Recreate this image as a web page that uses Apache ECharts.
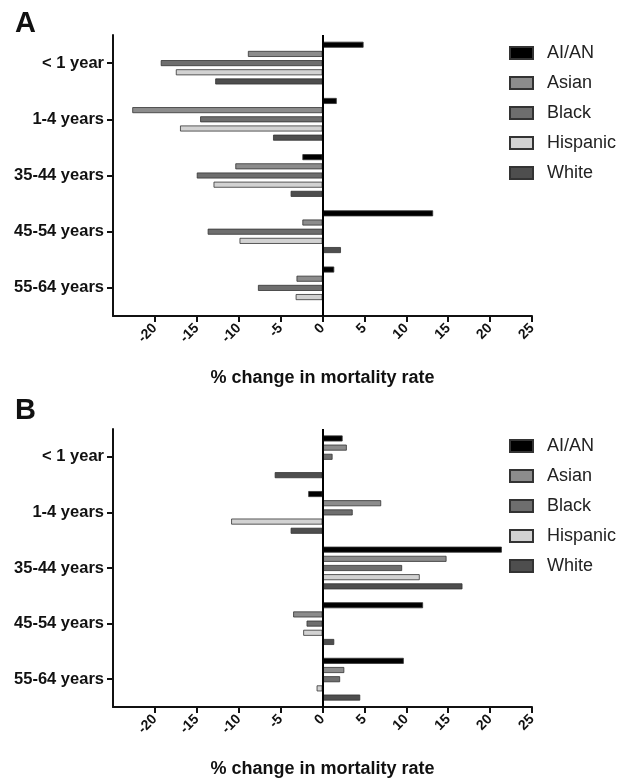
<!DOCTYPE html>
<html>
<head>
<meta charset="utf-8">
<script src="https://cdn.jsdelivr.net/npm/echarts@6/dist/echarts.min.js"></script>
<style>
  html, body { margin: 0; padding: 0; background: #fff; }
  #chart { width: 629px; height: 779px; }
</style>
</head>
<body>
<div id="chart"></div>
<script>
var categories = ['< 1 year', '1-4 years', '35-44 years', '45-54 years', '55-64 years'];
var groups = ['AI/AN', 'Asian', 'Black', 'Hispanic', 'White'];
var xTicks = [-20, -15, -10, -5, 0, 5, 10, 15, 20, 25];

// panel A
var aianA = [4.9, 1.7, -2.4, 13.2, 1.4];
var asianA = [-8.9, -22.7, -10.4, -2.4, -3.1];
var blackA = [-19.3, -14.6, -15.0, -13.7, -7.7];
var hispanicA = [-17.5, -17.0, -13.0, -9.9, -3.2];
var whiteA = [-12.8, -5.9, -3.8, 2.2, 0];

// panel B
var aianB = [2.4, -1.7, 21.4, 12.0, 9.7];
var asianB = [2.9, 7.0, 14.8, -3.5, 2.6];
var blackB = [1.2, 3.6, 9.5, -1.9, 2.1];
var hispanicB = [0, -10.9, 11.6, -2.3, -0.7];
var whiteB = [-5.7, -3.8, 16.7, 1.4, 4.5];

var colors = ['#000000', '#8c8c8c', '#6e6e6e', '#d2d2d2', '#4e4e4e'];
var font = 'Liberation Sans, Arial, Helvetica, sans-serif';

var chart = echarts.init(document.getElementById('chart'));

function xAxisCfg(gi) {
    return {
        type: 'value', gridIndex: gi,
        min: -25, max: 25, interval: 5,
        splitLine: { show: false },
        axisLine: { show: true, lineStyle: { color: '#111', width: 2 } },
        axisTick: { show: true, length: 6, lineStyle: { color: '#111', width: 2 }, customValues: xTicks },
        axisLabel: { rotate: 45, margin: 10, color: '#111', fontSize: 14, fontWeight: 'bold', fontFamily: font, customValues: xTicks },
        name: '% change in mortality rate',
        nameLocation: 'middle',
        nameGap: 53,
        nameTextStyle: { color: '#111', fontSize: 18, fontWeight: 'bold', fontFamily: font }
    };
}

function yAxisCfg(gi) {
    return {
        type: 'category', gridIndex: gi, data: categories, inverse: true,
        axisLine: { show: true, onZero: false, lineStyle: { color: '#111', width: 2 } },
        axisTick: { show: true, alignWithLabel: true, length: 6, lineStyle: { color: '#111', width: 2 } },
        axisLabel: { margin: 9, color: '#111', fontSize: 16.5, fontWeight: 'bold', fontFamily: font }
    };
}

function makeSeries(gi, lists) {
    return lists.map(function(vals, i) {
        var s = {
            name: groups[i], type: 'bar',
            xAxisIndex: gi, yAxisIndex: gi,
            data: vals,
            barWidth: 6, barGap: '53%',
            itemStyle: { color: colors[i], borderColor: '#333', borderWidth: 0.8 }
        };
        if (i == 0) {
            s.markLine = {
                silent: true, symbol: ['none', 'none'],
                label: { show: false },
                lineStyle: { color: '#000', width: 2, type: 'solid' },
                data: [{ xAxis: 0 }]
            };
        }
        return s;
    });
}

function legendCfg(top) {
    return {
        orient: 'vertical', left: 509, top: top, padding: 0,
        data: groups, icon: 'rect',
        itemWidth: 23, itemHeight: 12, itemGap: 12,
        textStyle: { color: '#222', fontSize: 18, fontFamily: font, padding: [0, 0, 0, 9] }
    };
}

var option = {
    animation: false,
    graphic: [
        { type: 'text', left: 15, top: 9, style: { text: 'A', fontSize: 29, fontWeight: 'bold', fontFamily: font, fill: '#111' } },
        { type: 'text', left: 15, top: 396, style: { text: 'B', fontSize: 29, fontWeight: 'bold', fontFamily: font, fill: '#111' } }
    ],
    legend: [legendCfg(44), legendCfg(437)],
    grid: [
        { left: 113, top: 35, width: 419, height: 281 },
        { left: 113, top: 429, width: 419, height: 278 }
    ],
    xAxis: [xAxisCfg(0), xAxisCfg(1)],
    yAxis: [yAxisCfg(0), yAxisCfg(1)],
    series: makeSeries(0, [aianA, asianA, blackA, hispanicA, whiteA])
        .concat(makeSeries(1, [aianB, asianB, blackB, hispanicB, whiteB]))
};

chart.setOption(option);
</script>
</body>
</html>
